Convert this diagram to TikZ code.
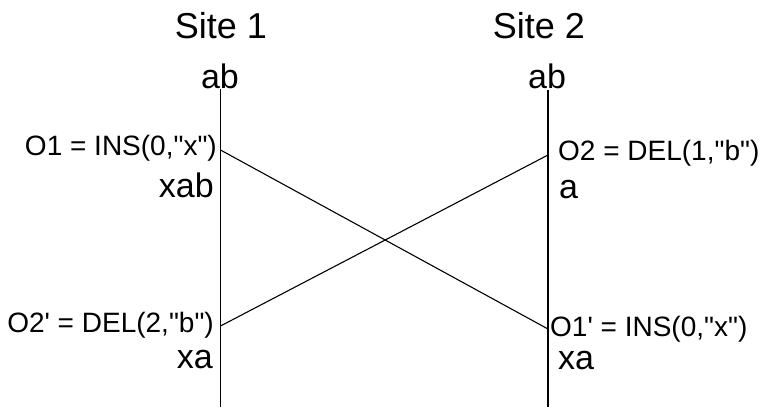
\documentclass[tikz,border=0pt]{standalone}
\usepackage{fontspec}
% plain family without TeX ligature mapping, so ' and " stay straight
\newfontfamily\arialike{Liberation Sans}
\begin{document}
\begin{tikzpicture}[x=1pt,y=-1pt,
  head/.style={inner sep=0pt, font=\arialike\fontsize{36}{36}\selectfont},
  big/.style={inner sep=0pt, font=\arialike\fontsize{34}{34}\selectfont},
  opl/.style={inner sep=0pt, font=\arialike\fontsize{28}{28}\selectfont},
  timeline/.style={line width=1.1pt},
  msg/.style={line width=1.1pt}]
\useasboundingbox (0,0) rectangle (762,407);

% site headers and initial states
\node[head, anchor=base] (site1) at (221,38) {Site 1};
\node[head, anchor=base] (site2) at (539,38) {Site 2};
\node[big, anchor=base] (init1) at (220,88) {ab};
\node[big, anchor=base] (init2) at (547,88) {ab};

% timeline end points and event points
\coordinate (t1top) at (220.5,89);
\coordinate (t1bot) at (220.5,407);
\coordinate (t2top) at (548,90);
\coordinate (t2bot) at (548,407);
\coordinate (gen1) at (220.5,150);
\coordinate (gen2) at (548,155);
\coordinate (exe2) at (220.5,326);
\coordinate (exe1) at (548,329);

\draw[timeline] (t1top) -- (t1bot);
\draw[timeline] (t2top) -- (t2bot);

% operations sent between the sites
\draw[msg] (gen1) -- (exe1);
\draw[msg] (gen2) -- (exe2);

% operation labels
\node[opl, anchor=base east] (op1) at (217,155) {O1 = INS(0,"x")};
\node[opl, anchor=base west] (op2) at (558,160) {O2 = DEL(1,"b")};
\node[opl, anchor=base east] (op2t) at (214,332) {O2' = DEL(2,"b")};
\node[opl, anchor=base west] (op1t) at (550,336) {O1' = INS(0,"x")};

% resulting states
\node[big, anchor=base east] (st1a) at (214,197) {xab};
\node[big, anchor=base west] (st2a) at (559,198) {a};
\node[big, anchor=base east] (st1b) at (213,368) {xa};
\node[big, anchor=base west] (st2b) at (558,369) {xa};
\end{tikzpicture}
\end{document}
